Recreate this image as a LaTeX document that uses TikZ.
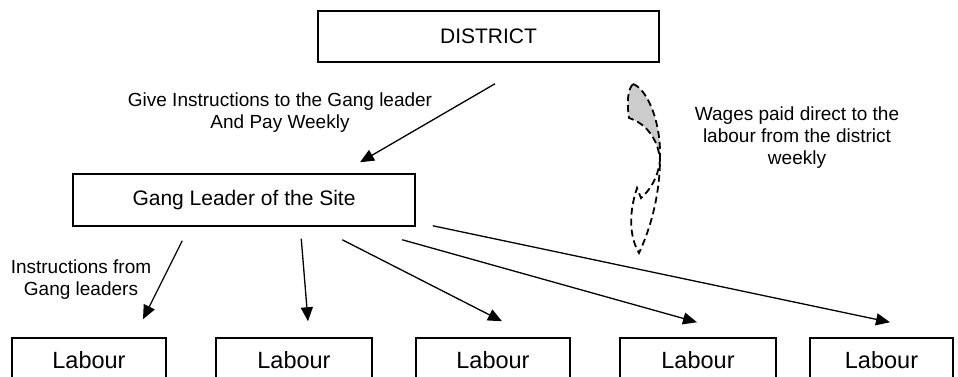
\documentclass[tikz,border=0pt]{standalone}
\usepackage{fontspec}
\setmainfont{Liberation Sans}
\usetikzlibrary{arrows.meta,calc}

\tikzset{
  box/.style={draw, line width=1.5pt, rectangle, inner sep=0pt},
  boxtext/.style={font=\fontsize{21}{24}\selectfont},
  labourbox/.style={box, minimum width=155pt, minimum height=44pt,
    font=\fontsize{23.5}{26}\selectfont},
  note/.style={align=center, font=\fontsize{19}{22}\selectfont, inner sep=0pt},
  arr/.style={line width=1.3pt, -{Triangle[length=14pt,width=12pt]}},
  wagepath/.style={dashed, dash pattern=on 7pt off 4pt, line width=1.8pt}
}

\begin{document}
\begin{tikzpicture}[x=1pt, y=-1pt]
  \useasboundingbox (0,0) rectangle (958,376);
  \clip (0,0) rectangle (958,376);

  % top level and site level
  \node[box, boxtext, minimum width=341pt, minimum height=51pt] (d) at (488.5,36.5) {DISTRICT};
  \node[box, boxtext, minimum width=342pt, minimum height=52pt] (g) at (244,200) {Gang Leader of the Site};

  % labour row
  \node[labourbox, minimum width=154pt] (l1) at (89,360) {Labour};
  \node[labourbox, minimum width=156pt] (l2) at (294,360) {Labour};
  \node[labourbox, minimum width=154pt] (l3) at (493,360) {Labour};
  \node[labourbox, minimum width=156pt] (l4) at (698,360) {Labour};
  \node[labourbox, minimum width=143pt] (l5) at (881.5,360) {Labour};

  % notes
  \node[note] (n1) at (280,113) {Give Instructions to the Gang leader\\And Pay Weekly};
  \node[note] (n2) at (797,138) {Wages paid direct to the\\labour from the district\\weekly};
  \node[note] (n3) at (81,280) {Instructions from\\Gang leaders};

  % instructions from the district
  \draw[arr] ($(d.south)+(6.5,21)$) -- ($(g.north)+(116,-11)$);

  % instructions from the gang leader
  \draw[arr] ($(g.south west)+(110,14)$) -- ($(l1.north)+(54,-18)$);
  \draw[arr] ($(g.south west)+(229,12)$) -- ($(l2.north)+(14,-16)$);
  \draw[arr] ($(g.south west)+(270,13)$) -- ($(l3.north)+(9,-16)$);
  \draw[arr] ($(g.south west)+(330,13)$) -- ($(l4.north)+(-1,-15)$);
  \draw[arr] ($(g.south east)+(17,-1)$) -- ($(l5.north)+(8.5,-15)$);

  % curved wage arrow: shaded tail
  \fill[gray!40] (633,84) .. controls (645,88) and (659,115) .. (660,150)
    -- (660,160) .. controls (658,138) and (645,123) .. (629,118)
    .. controls (627,105) and (627,90) .. cycle;
  % curved wage arrow: dashed outline
  \draw[wagepath] (633,84) .. controls (645,88) and (659,115) .. (660,150)
    .. controls (661,190) and (652,225) .. (639,253)
    .. controls (630,238) and (628,215) .. (637,188)
    -- (641,198)
    .. controls (650,190) and (658,178) .. (660,160)
    .. controls (658,138) and (645,123) .. (629,118)
    .. controls (627,105) and (627,90) .. cycle;
\end{tikzpicture}
\end{document}
